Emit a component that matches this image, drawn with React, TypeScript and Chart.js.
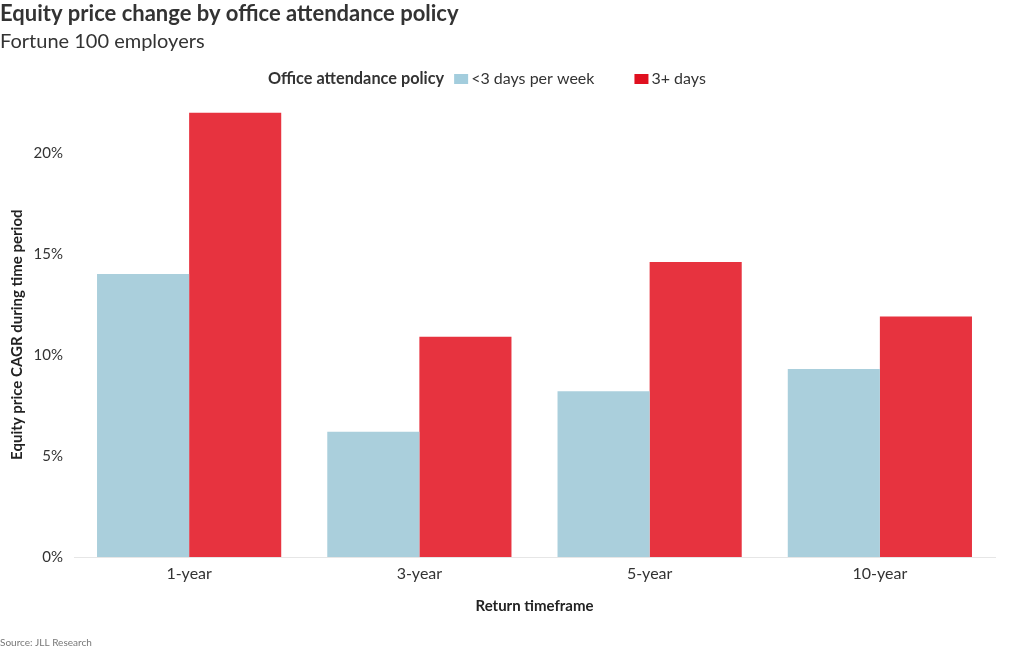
import { useEffect, useRef } from 'react';
import { Chart, registerables } from 'chart.js';

Chart.register(...registerables);

const FONT = 'Lato, "Source Sans Pro", sans-serif';

const categories = ['1-year', '3-year', '5-year', '10-year'];
const lessThan3Days = [14.0, 6.2, 8.2, 9.3];
const threePlusDays = [22.0, 10.9, 14.6, 11.9];
const seriesLabels = ['<3 days per week', '3+ days'];
const barColors = ['#aacfdc', '#e7333f'];
const swatchColors = ['#a3cddd', '#e0101f'];
const legendTitle = 'Office attendance policy';
const titleText = 'Equity price change by office attendance policy';
const subtitleText = 'Fortune 100 employers';
const yAxisTitle = 'Equity price CAGR during time period';
const xAxisTitle = 'Return timeframe';
const sourceText = 'Source: JLL Research';

const inlineLegend = {
  id: 'inlineLegend',
  afterDraw(chart: any) {
    const ctx = chart.ctx;
    ctx.save();
    const y = 79;
    let x = 268;
    ctx.textBaseline = 'middle';
    ctx.textAlign = 'left';
    ctx.font = `bold 16.3px ${FONT}`;
    ctx.fillStyle = '#333333';
    ctx.fillText(legendTitle, x, y);
    x += ctx.measureText(legendTitle).width + 10;
    chart.data.datasets.forEach((ds: any, i: number) => {
      ctx.fillStyle = swatchColors[i];
      ctx.fillRect(x, y - 5, 14, 10);
      x += 17;
      ctx.font = `16px ${FONT}`;
      ctx.fillStyle = '#333333';
      ctx.fillText(ds.label, x, y);
      x += ctx.measureText(ds.label).width + 40;
    });
    ctx.font = `10px ${FONT}`;
    ctx.fillStyle = '#777777';
    ctx.fillText(sourceText, 0, 643);
    ctx.restore();
  },
};

export default function App() {
  const canvasRef = useRef<HTMLCanvasElement | null>(null);

  useEffect(() => {
    if (!canvasRef.current) return;
    const chart = new Chart(canvasRef.current, {
      type: 'bar',
      data: {
        labels: categories,
        datasets: [
          {
            label: seriesLabels[0],
            data: lessThan3Days,
            backgroundColor: barColors[0],
            borderWidth: 0,
            categoryPercentage: 0.8,
            barPercentage: 1.0,
          },
          {
            label: seriesLabels[1],
            data: threePlusDays,
            backgroundColor: barColors[1],
            borderWidth: 0,
            categoryPercentage: 0.8,
            barPercentage: 1.0,
          },
        ],
      },
      options: {
        responsive: false,
        animation: false,
        layout: { padding: { left: 0, right: 25, top: 0, bottom: 0 } },
        plugins: {
          legend: { display: false },
          tooltip: { enabled: false },
          title: {
            display: true,
            text: titleText,
            align: 'start',
            color: '#333333',
            font: { family: FONT, size: 22, weight: 'bold' },
            padding: { top: 1, bottom: 2 },
          },
          subtitle: {
            display: true,
            text: subtitleText,
            align: 'start',
            color: '#333333',
            font: { family: FONT, size: 20, weight: 'normal' },
            padding: { top: 0, bottom: 59 },
          },
        },
        scales: {
          x: {
            grid: { display: false, drawTicks: false },
            border: { display: true, color: '#e6e6e6', width: 1 },
            ticks: { color: '#333333', font: { family: FONT, size: 16 }, padding: 7 },
            title: {
              display: true,
              text: xAxisTitle,
              color: '#222222',
              font: { family: FONT, size: 15, weight: 'bold' },
              padding: { top: 0, bottom: 35 },
            },
            afterFit: (s: any) => {
              s.height = 93;
            },
          },
          y: {
            min: 0,
            max: 22,
            grid: { display: false, drawTicks: false },
            border: { display: false },
            ticks: {
              stepSize: 5,
              includeBounds: false,
              color: '#333333',
              font: { family: FONT, size: 15 },
              padding: 11,
              callback: (v: any) => `${v}%`,
            },
            title: {
              display: true,
              text: yAxisTitle,
              color: '#222222',
              font: { family: FONT, size: 15, weight: 'bold' },
              padding: { top: 8, bottom: 0 },
            },
            afterFit: (s: any) => {
              s.width = 74;
            },
          },
        },
      },
      plugins: [inlineLegend],
    });
    return () => chart.destroy();
  }, []);

  return (
    <div style={{ position: 'fixed', left: 0, top: 0, width: 1020, height: 650, background: '#ffffff' }}>
      <canvas ref={canvasRef} width={1020} height={650} />
    </div>
  );
}
